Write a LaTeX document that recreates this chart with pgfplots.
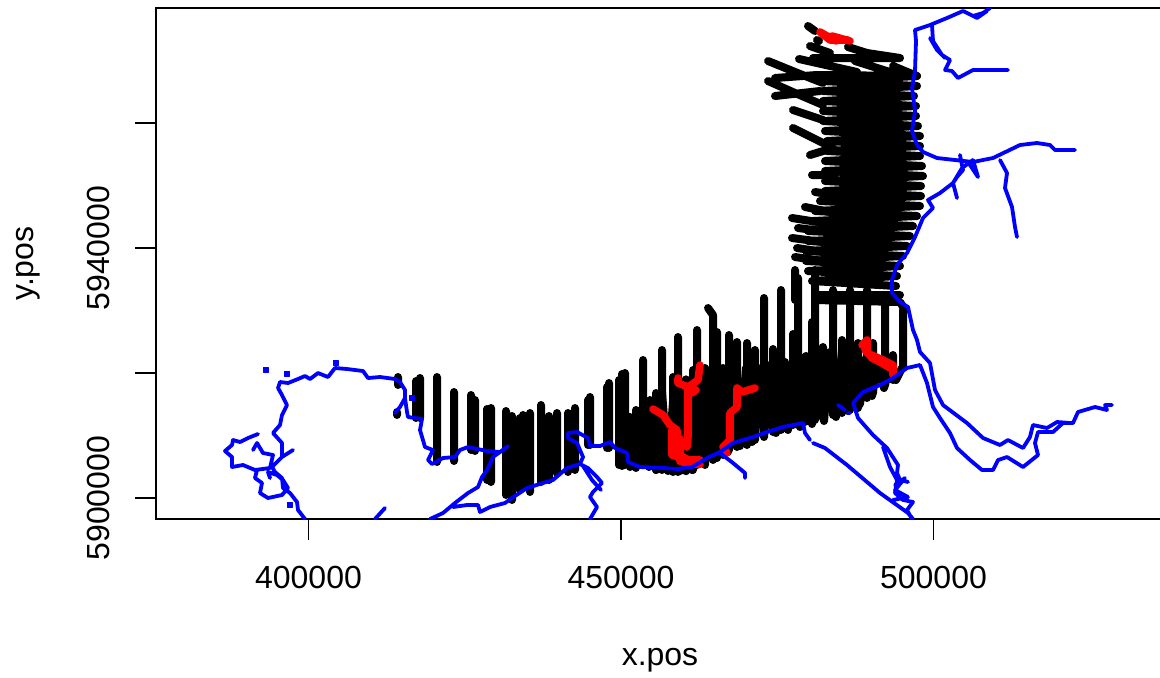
\documentclass[border=0pt]{standalone}
\usepackage{pgfplots}
\usepackage{fontspec}
\setmainfont{Liberation Sans}
\pgfplotsset{compat=1.18}
\definecolor{rblue}{RGB}{0,0,255}
\definecolor{rred}{RGB}{255,0,0}
\begin{document}
\begin{tikzpicture}
\path[use as bounding box] (0,0) rectangle (580pt,338.5pt);
\begin{axis}[
  at={(78pt,79pt)},anchor=south west,scale only axis,
  width=504pt,height=255.5pt,
  xmin=375600,xmax=536880,ymin=5896660,ymax=5978420,
  axis line style={line width=1pt},
  scaled ticks=false,
  xtick pos=bottom, ytick pos=left,
  tick align=outside,
  major tick length=10.5pt,
  tick style={line width=0.8pt,black},
  xtick={400000,450000,500000},
  xticklabels={400000,450000,500000},
  ytick={5900000,5920000,5940000,5960000},
  yticklabels={5900000,,5940000,},
  xticklabel style={font=\fontsize{16}{19}\selectfont,anchor=center,yshift=-18.5pt},
  yticklabel style={font=\fontsize{16}{19}\selectfont,anchor=center,xshift=-18.5pt,rotate=90},
  xlabel={x.pos},ylabel={y.pos},
  xlabel style={font=\fontsize{16}{19}\selectfont,at={(axis description cs:0.5,0)},anchor=center,yshift=-70.5pt},
  ylabel style={font=\fontsize{16}{19}\selectfont,at={(axis description cs:0,0.5)},anchor=center,yshift=64pt},
  unbounded coords=jump,
  every axis plot/.append style={line cap=round,line join=round},
]
% black transects: lower area
\addplot[black,line width=4pt,no marks] table {
x y
414320 5919380
414320 5918100
nan nan
414160 5913780
414160 5913300
nan nan
417200 5918740
417200 5912820
nan nan
417840 5919220
417840 5912820
nan nan
420560 5919380
420560 5905780
nan nan
423280 5916980
423280 5905940
nan nan
426000 5916500
426000 5907700
nan nan
426640 5915700
426640 5907540
nan nan
428560 5914260
428560 5902900
nan nan
429200 5914420
429200 5902580
nan nan
431600 5913940
431600 5900500
nan nan
432560 5913140
432560 5899700
nan nan
433840 5912820
433840 5901300
nan nan
434320 5913300
434320 5901780
nan nan
435440 5913620
435440 5900980
nan nan
437200 5914900
437200 5902580
nan nan
438480 5913140
438480 5902900
nan nan
439760 5913620
439760 5904020
nan nan
441520 5913620
441520 5904180
nan nan
442640 5914420
442640 5904500
nan nan
444720 5915700
444720 5908500
nan nan
445040 5916180
445040 5908500
nan nan
447760 5917780
447760 5908020
nan nan
448080 5918420
448080 5908020
nan nan
449680 5918900
449680 5905300
nan nan
450160 5919860
450160 5905140
nan nan
450640 5920020
450640 5905300
nan nan
451440 5912980
451440 5904980
nan nan
452400 5914100
452400 5904820
nan nan
453520 5922100
453520 5905300
nan nan
454480 5915380
454480 5904980
nan nan
455600 5916820
455600 5904500
nan nan
456560 5923700
456560 5904500
nan nan
458320 5919380
458320 5904180
nan nan
459120 5925780
459120 5904180
nan nan
460400 5919000
460400 5904300
nan nan
461520 5920500
461520 5904500
nan nan
462160 5926900
462160 5905300
nan nan
463440 5920820
463440 5905300
nan nan
463920 5930420
464720 5929300
464720 5906100
nan nan
465360 5926580
465360 5906420
nan nan
466320 5920820
466320 5906900
nan nan
467280 5926100
467280 5907700
nan nan
468560 5924980
468560 5908180
nan nan
470160 5924820
470160 5908500
nan nan
471440 5923700
471440 5909300
nan nan
472880 5932020
472880 5910100
nan nan
474320 5923860
474320 5910580
nan nan
475600 5933300
475600 5910900
nan nan
476240 5921780
476240 5911220
nan nan
477520 5926260
477520 5911700
nan nan
478320 5935220
478320 5911700
nan nan
479440 5922580
479440 5912180
nan nan
480560 5928180
480560 5912500
nan nan
481040 5936500
481040 5912500
nan nan
482320 5924180
482320 5912820
nan nan
483920 5933300
483920 5913300
nan nan
485360 5925300
485360 5913620
nan nan
486640 5933300
486640 5914100
nan nan
487920 5924820
487920 5914420
nan nan
489360 5933300
489360 5916020
nan nan
490320 5924820
490320 5916820
nan nan
492240 5931700
492240 5918100
nan nan
493520 5922900
493520 5918900
nan nan
495120 5930100
495120 5920820
nan nan
481360 5932500
494640 5932500
nan nan
481040 5931700
494640 5931380
495440 5930100
nan nan
477840 5936500
477840 5931700
};
% dense lower section
\addplot[black,line width=4pt,no marks] table {
x y
454640 5915700
455600 5904500
456560 5916980
457520 5904340
458480 5917620
459440 5904340
460400 5918420
461360 5904500
462320 5919700
463280 5905620
464240 5920500
465200 5906420
466160 5920500
467120 5907380
468080 5920500
469040 5908340
470000 5920820
470960 5908980
471920 5920820
472880 5909780
473840 5921300
474800 5910420
475760 5922100
476720 5910900
477680 5922420
478640 5911380
479600 5922740
480560 5911860
481520 5922900
482480 5912340
483440 5923380
484400 5912980
485360 5923700
486320 5913940
487280 5923380
488240 5915060
489200 5922420
490160 5916340
491120 5921780
492080 5917620
493040 5921140
494000 5918900
494960 5920820
};
% black transects: northern area, tails
\addplot[black,line width=4pt,no marks] table {
x y
479920 5975540
481040 5974740
nan nan
481360 5973300
481680 5973140
nan nan
480240 5972340
483440 5971220
nan nan
486320 5972180
489360 5971220
494640 5970420
nan nan
480720 5970420
494640 5970420
nan nan
478480 5970260
487760 5968180
nan nan
487440 5969940
493520 5968020
nan nan
493520 5969140
497360 5967540
nan nan
473520 5969940
478640 5967860
482320 5966420
nan nan
474640 5967220
481360 5967700
497360 5967540
nan nan
473520 5966740
477840 5964820
482320 5962900
nan nan
474640 5964340
481840 5965140
nan nan
477520 5962100
482320 5960500
nan nan
477520 5959220
482960 5956500
nan nan
480240 5954900
483920 5956020
nan nan
480560 5951700
484240 5951700
nan nan
481040 5948980
484240 5948500
nan nan
479440 5946580
483440 5945780
nan nan
477360 5944820
483440 5943860
nan nan
478320 5943220
483440 5942580
nan nan
477360 5941620
483440 5940820
nan nan
478160 5940020
483440 5939220
nan nan
477840 5938580
483440 5937780
};
% black transects: northern area, zigzag block
\addplot[black,line width=4pt,no marks] table {
x y
497360 5967540
482320 5966740
497360 5965940
482320 5965140
496880 5964340
482320 5963540
497200 5962740
482320 5961940
497200 5961140
482320 5960340
497520 5959540
482640 5958740
497840 5957940
482960 5957140
497840 5956340
482960 5955540
497840 5954740
482640 5953940
498160 5953140
482640 5952340
498320 5951540
482640 5950740
498000 5949940
482640 5949140
498000 5948340
481840 5947540
497840 5946740
481040 5945940
497360 5945140
480720 5944340
496720 5943540
479920 5942740
496240 5941940
479920 5941140
495760 5940340
479600 5939540
495120 5938740
479600 5937940
494640 5937140
479920 5936340
494160 5935540
480560 5934740
494000 5933940
};
% red
\addplot[rred,line width=3.8pt,no marks] table {
x y
455120 5914260
456720 5913300
457840 5911700
458960 5910900
458960 5907220
460720 5906100
462640 5906100
nan nan
458160 5910900
458160 5906900
459760 5906420
nan nan
459440 5909500
459440 5905900
461000 5905500
462640 5905400
nan nan
459120 5919220
459120 5918420
460720 5917780
460720 5909780
460560 5908180
nan nan
460720 5917780
462320 5918900
462640 5921300
nan nan
460720 5917780
461360 5916820
462000 5917300
nan nan
471440 5917620
469360 5916980
468560 5917620
468560 5914580
467440 5913620
467440 5909300
466320 5908180
466960 5907220
nan nan
488560 5924500
489360 5925300
489360 5923220
491920 5922100
493520 5921300
493520 5919700
nan nan
489040 5923700
490160 5922420
491440 5921780
493040 5920820
nan nan
481840 5974580
483440 5973300
486320 5973300
nan nan
483760 5973940
486640 5973140
nan nan
481840 5974580
484400 5973140
};
% blue
\addplot[rblue,line width=1.9pt,no marks] table {
x y
399440 5896660
398320 5898100
398160 5899380
397040 5900820
395920 5901620
395760 5903220
394640 5904180
394160 5904980
395760 5906580
395760 5908820
394320 5910420
395440 5911700
395760 5913300
396560 5914900
395760 5916500
395120 5917620
395440 5918580
396720 5918420
398320 5919060
399440 5919540
400240 5919060
401520 5920020
403120 5919380
404240 5920820
406160 5920660
408720 5920340
409520 5919220
411440 5919380
413840 5919060
414640 5918580
415440 5917300
415440 5916020
414640 5914580
413840 5913620
nan nan
415440 5916020
415760 5913780
415920 5912980
418160 5912660
417840 5910900
418640 5908180
419920 5907700
419120 5906100
419760 5905460
421520 5906420
423440 5906580
424240 5907700
425520 5908180
428560 5907540
430640 5907380
431920 5908340
nan nan
430640 5907380
429520 5906580
428560 5904500
427760 5903380
427120 5901780
425520 5900820
423440 5899220
421520 5897620
419440 5896660
nan nan
423120 5898580
425360 5898900
427120 5898900
427440 5897780
429040 5898580
431440 5899220
432560 5900020
434960 5901620
437520 5902420
439120 5902900
441360 5904820
443440 5905460
444720 5904820
446160 5903380
446960 5902420
445520 5900980
445040 5900180
446160 5898580
445040 5896660
nan nan
443920 5905140
445360 5902900
446800 5901300
nan nan
443440 5905460
443920 5906580
442960 5908820
441520 5909620
441520 5910420
442960 5910580
444720 5909620
445040 5908340
446640 5908340
448240 5908980
449040 5908020
450960 5907220
451120 5905780
453040 5904980
456720 5904820
459120 5904660
461360 5904980
463760 5906420
465840 5907380
467920 5908820
471120 5909780
473360 5910580
475920 5911380
479120 5912020
479440 5910420
480240 5909300
nan nan
480720 5908820
482640 5908020
486160 5905300
491440 5900820
495920 5897620
496720 5896660
nan nan
487120 5915220
488720 5916980
491440 5918100
493520 5919220
495760 5920820
497840 5921300
498960 5918420
499920 5914580
501040 5912820
502640 5910420
503760 5908020
505840 5906100
507760 5904500
509520 5904500
510320 5906100
511760 5906580
514320 5904980
516720 5906900
516240 5908820
516720 5910580
519120 5910580
520720 5912020
522320 5912020
523120 5913780
525840 5914580
527760 5914100
527440 5914900
528560 5914900
nan nan
506320 5954100
504560 5952820
503120 5950420
501040 5948820
499120 5947700
499920 5946420
498320 5944820
497040 5941780
495760 5939220
494160 5937300
493360 5934900
493360 5932820
494640 5931380
495920 5930580
496720 5926900
497360 5925300
497840 5923380
499440 5921620
500240 5917300
501520 5914900
505360 5912020
507920 5909620
510640 5908500
511920 5909300
514320 5908020
515440 5909780
515920 5911700
518160 5911220
519760 5912180
521840 5912020
nan nan
509040 5978420
507920 5977620
506320 5977140
504720 5977940
502160 5976820
499440 5975700
497040 5974900
497200 5973140
497040 5968340
496560 5965620
497040 5961940
496560 5958740
497360 5956500
498320 5955380
500560 5954420
506320 5953780
509520 5954420
513840 5956500
516560 5956820
518640 5956500
519440 5955700
522640 5955700
nan nan
510640 5954100
511760 5952020
511440 5949620
512560 5946580
513040 5943380
513360 5941780
nan nan
499760 5975700
499920 5973140
501360 5970900
502640 5970100
501840 5968500
502960 5968340
503920 5967220
506320 5968500
509040 5968500
511920 5968500
nan nan
499440 5973620
500560 5971700
501840 5970420
nan nan
505360 5977620
506960 5976820
508560 5977940
nan nan
504240 5954900
504720 5952500
503760 5951380
503120 5950420
503760 5948020
nan nan
506320 5954100
507120 5951380
505840 5953300
nan nan
487120 5915220
487920 5912820
490320 5910100
492560 5908020
494320 5905300
494160 5904020
494640 5902900
495920 5902580
nan nan
491920 5908180
493040 5904980
494160 5902900
493840 5900820
495120 5899700
496720 5899380
495760 5898100
496560 5896660
nan nan
493840 5902100
495440 5903220
493840 5901300
495920 5900180
493520 5899700
nan nan
484720 5914900
485840 5914100
nan nan
486320 5913620
486640 5913620
nan nan
465840 5907220
467920 5905620
469840 5904020
469840 5903220
nan nan
391920 5910260
390320 5909620
389040 5908980
387920 5909300
387760 5908500
386640 5907540
387760 5906580
387760 5904980
389520 5905300
391440 5904500
393840 5904820
394320 5906900
392720 5907220
391760 5908820
391120 5907700
nan nan
391760 5904500
391440 5903220
392560 5902420
392240 5900820
393520 5900020
395760 5900500
396720 5901620
395920 5902900
394960 5903700
393520 5904180
393840 5903220
nan nan
394160 5904980
395760 5906580
397520 5907700
nan nan
412240 5898420
410640 5896660
};
\addplot[rblue,only marks,mark=square*,mark size=1.1pt] table {
x y
393200 5920500
396560 5919860
404400 5921620
416560 5916020
397040 5898900
};
\end{axis}
\end{tikzpicture}
\end{document}
